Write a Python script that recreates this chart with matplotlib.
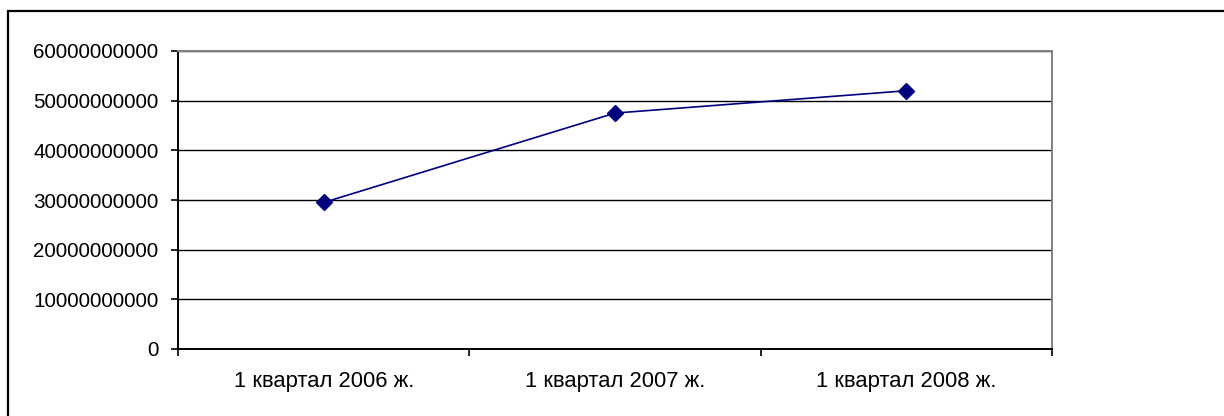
import matplotlib
matplotlib.use("Agg")
import matplotlib.pyplot as plt
from matplotlib.patches import Rectangle
from matplotlib.ticker import MultipleLocator, FuncFormatter

periods = ["1 квартал 2006 ж.", "1 квартал 2007 ж.", "1 квартал 2008 ж."]
amounts = [29.5e9, 47.5e9, 52.0e9]

plt.rcParams["font.family"] = ["Liberation Sans", "DejaVu Sans"]

W, H = 1224, 416
fig = plt.figure(figsize=(W / 100, H / 100), dpi=100)
fig.patch.set_facecolor("white")

# chart frame, runs off the right and bottom edges
fig.patches.append(Rectangle((8 / W, -0.1), 1.2, (H - 11) / H + 0.1,
                             transform=fig.transFigure, fill=False,
                             edgecolor="black", linewidth=1.6))

ax = fig.add_axes([178 / W, (H - 349) / H, 874 / W, 298 / H])

x = list(range(len(periods)))
ax.plot(x, amounts, color="#000080", linewidth=1.2, marker="D",
        markersize=8.5, markerfacecolor="#000080", markeredgecolor="#000080",
        zorder=3)

ax.set_xlim(-0.5, len(periods) - 0.5)
ax.set_ylim(0, 60e9)
ax.yaxis.set_major_locator(MultipleLocator(10e9))
ax.yaxis.set_major_formatter(FuncFormatter(lambda v, p: f"{int(round(v))}"))
ax.grid(axis="y", color="black", linewidth=1.0)
ax.set_axisbelow(True)

ax.set_xticks(x)
ax.set_xticklabels(periods)
ax.set_xticks([i + 0.5 for i in range(-1, len(periods))], minor=True)
ax.tick_params(axis="x", which="major", length=0, pad=16, labelsize=15.8)
ax.tick_params(axis="x", which="minor", length=5, width=1.2, direction="out")
ax.tick_params(axis="y", length=5, width=1.2, direction="out", pad=9,
               labelsize=14.9)

for side in ("left", "bottom"):
    ax.spines[side].set_color("black")
    ax.spines[side].set_linewidth(1.4)
for side in ("top", "right"):
    ax.spines[side].set_color("#808080")
    ax.spines[side].set_linewidth(1.4)

fig.savefig("out.png", dpi=100)
